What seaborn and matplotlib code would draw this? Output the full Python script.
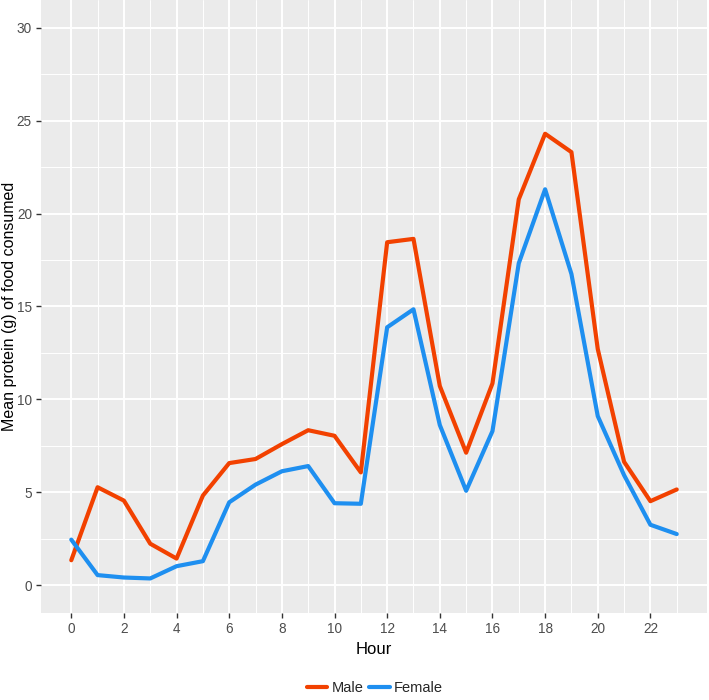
import numpy as np
import pandas as pd
import matplotlib
matplotlib.use("Agg")
import matplotlib.pyplot as plt
import seaborn as sns

# ---- data ----
HOURS = list(range(24))
MALE = [1.34, 5.27, 4.55, 2.23, 1.43, 4.82, 6.57, 6.79, 7.59, 8.34, 8.04, 6.07,
        18.46, 18.64, 10.72, 7.13, 10.86, 20.77, 24.30, 23.31, 12.71, 6.64, 4.52, 5.15]
FEMALE = [2.45, 0.54, 0.41, 0.36, 1.02, 1.29, 4.46, 5.41, 6.13, 6.41, 4.41, 4.38,
          13.88, 14.85, 8.62, 5.08, 8.29, 17.33, 21.31, 16.75, 9.10, 5.92, 3.25, 2.75]
SEXES = ["Male", "Female"]
COLORS = {"Male": "#F24100", "Female": "#1E8FF0"}

X_TICKS = list(range(0, 24, 2))
Y_TICKS = [0, 5, 10, 15, 20, 25, 30]

df = pd.concat([
    pd.DataFrame({"Hour": HOURS, "Protein": MALE, "Sex": "Male"}),
    pd.DataFrame({"Hour": HOURS, "Protein": FEMALE, "Sex": "Female"}),
], ignore_index=True)

# ggplot2-like grey theme
sns.set_theme(style="darkgrid", rc={
    "axes.facecolor": "#EBEBEB",
    "grid.color": "white",
    "axes.edgecolor": "#EBEBEB",
})
plt.rcParams['font.family'] = ['Liberation Sans', 'DejaVu Sans']

fig = plt.figure(figsize=(7.09, 7.0), dpi=100)
ax = fig.add_axes([41 / 709, 87 / 700, 666 / 709, 613 / 700])

sns.lineplot(data=df, x="Hour", y="Protein", hue="Sex", hue_order=SEXES,
             palette=COLORS, linewidth=3.0, ax=ax, legend=False)

ax.set_xlim(-1.15, 24.15)
ax.set_ylim(-1.5, 31.5)
ax.set_xticks(X_TICKS)
ax.set_yticks(Y_TICKS)
ax.set_xticks(np.arange(1, 24, 2), minor=True)
ax.set_yticks(np.arange(2.5, 31, 5), minor=True)
ax.grid(which="major", color="white", linewidth=1.4)
ax.grid(which="minor", color="white", linewidth=0.7)
for s in ax.spines.values():
    s.set_visible(False)

ax.tick_params(axis="both", which="major", length=3.5, width=1.0, color="#333333",
               labelsize=9.8, labelcolor="#4D4D4D", pad=3, bottom=True, left=True)
ax.tick_params(axis="both", which="minor", length=0)

ax.set_xlabel("Hour", fontsize=12, color="black", labelpad=4)
ax.set_ylabel("Mean protein (g) of food consumed", fontsize=11.5, color="black",
              va="center")
ax.yaxis.set_label_coords(-31 / 666, 0.5)

handles = [plt.Line2D([], [], color=COLORS[s], linewidth=3.0) for s in SEXES]
leg = fig.legend(handles, SEXES, loc="center", bbox_to_anchor=(375 / 709, 12 / 700),
                 ncol=2, frameon=False, fontsize=10.5, handlelength=1.4,
                 handletextpad=0.3, columnspacing=0.4)

fig.savefig("out.png", dpi=100)
